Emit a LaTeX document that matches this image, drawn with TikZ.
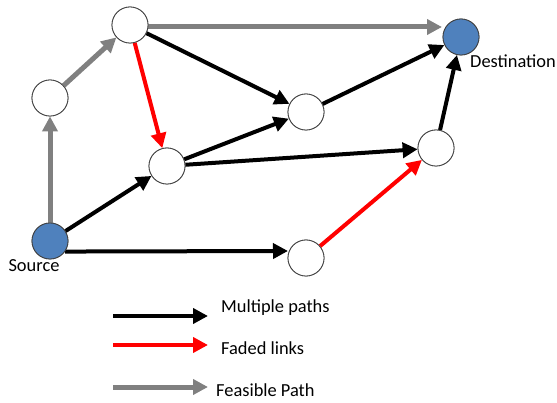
\documentclass[tikz,border=0pt]{standalone}
\usepackage{fontspec}
\setmainfont{Carlito}
\usetikzlibrary{arrows.meta}
\definecolor{nodeblue}{HTML}{4F81BD}
\definecolor{feasgray}{HTML}{808080}
\definecolor{fadedred}{HTML}{FF0000}
\begin{document}
\begin{tikzpicture}[x=1pt,y=-1pt,
  every node/.style={font=\fontsize{18.4}{21}\selectfont},
  relay/.style={circle,draw=black!75,line width=0.8pt,fill=white,minimum size=36pt,inner sep=0pt},
  terminal/.style={relay,fill=nodeblue},
  tip/.style={-{Triangle[length=15pt,width=15pt]}},
  multi/.style={tip,draw=black,line width=4pt},
  faded/.style={tip,draw=fadedred,line width=4pt},
  feas/.style={tip,draw=feasgray,line width=5pt},
  lbl/.style={anchor=base west,inner sep=0pt}]
\useasboundingbox (0,0) rectangle (557,403);

% network nodes
\node[terminal] (S) at (50,241) {};
\node[relay] (A) at (50,98) {};
\node[relay] (B) at (130,25) {};
\node[terminal] (T) at (461,37) {};
\node[relay] (C) at (306,112) {};
\node[relay] (D) at (167,166) {};
\node[relay] (E) at (436,148) {};
\node[relay] (F) at (306,258) {};

\node[anchor=base,inner sep=0pt] (Slbl) at (34,272) {Source};
\node[lbl] (Tlbl) at (470,68) {Destination};

% feasible path
\draw[feas] (S) -- (A);
\draw[feas] (A) -- (B);
\coordinate (Tin) at (442,27);
\draw[feas] (B.east |- Tin) -- (Tin);

% faded links
\draw[faded] (B) -- (D);
\draw[faded] (F) -- (E);

% multiple paths
\draw[multi] (B) -- (C);
\draw[multi] (D) -- (C);
\draw[multi] (C) -- (T);
\draw[multi] (D) -- (E);
\draw[multi] (E) -- (T);
\draw[multi] (S) -- (D);
\coordinate (Fin) at (288,251);
\draw[multi] (S.-35) -- (Fin);

% redraw circles above line ends
\foreach \n in {S,T}{\node[terminal] at (\n) {};}
\foreach \n in {A,B,C,D,E,F}{\node[relay] at (\n) {};}

% legend
\coordinate (k1a) at (113,316); \coordinate (k1b) at (208,316);
\coordinate (k2a) at (113,345); \coordinate (k2b) at (208,345);
\coordinate (k3a) at (113,387); \coordinate (k3b) at (208,387);
\draw[multi] (k1a) -- (k1b);
\draw[faded] (k2a) -- (k2b);
\draw[feas] (k3a) -- (k3b);
\node[lbl] (L1) at (221,313) {Multiple paths};
\node[lbl] (L2) at (221,355) {Faded links};
\node[lbl] (L3) at (216,396) {Feasible Path};
\end{tikzpicture}
\end{document}
